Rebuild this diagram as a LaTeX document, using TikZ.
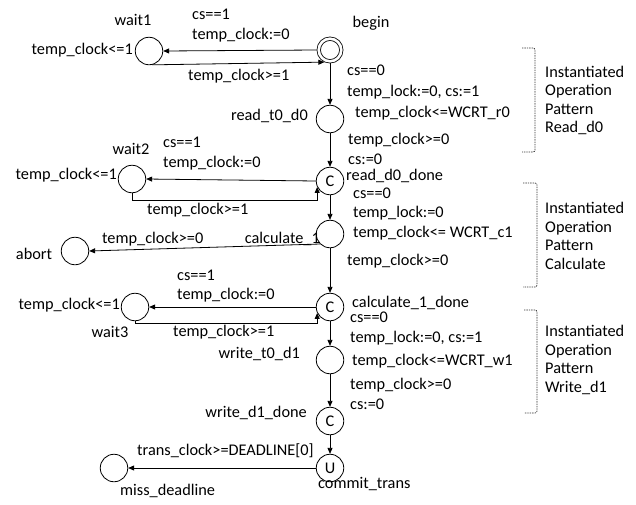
\documentclass[tikz,border=0pt]{standalone}
\usepackage{fontspec}
\setmainfont{Carlito}
\usetikzlibrary{arrows.meta}
\begin{document}
\begin{tikzpicture}[x=1pt,y=-1pt,
  every node/.style={font=\fontsize{16.3}{18.5}\selectfont},
  loc/.style={draw, circle, minimum size=27.5pt, inner sep=0pt, line width=0.8pt},
  initloc/.style={draw, circle, minimum size=22.6pt, inner sep=0pt, line width=0.8pt, double, double distance=2.6pt, outer sep=2.1pt},
  lbl/.style={inner sep=0pt, text height=0.75em, text depth=0.2em},
  blk/.style={inner sep=0pt, align=left, anchor=west},
  arr/.style={line width=0.8pt, -{Triangle[length=6pt,width=5pt]}},
  brk/.style={line width=0.7pt, dash pattern=on 1.4pt off 1pt, rounded corners=2pt, black!80}]
\useasboundingbox (0,0) rectangle (636,504);

% locations
\node[initloc] (begin) at (330,50) {};
\node[loc] (read_t0_d0) at (330,119) {};
\node[loc] (read_d0_done) at (330,181) {C};
\node[loc] (calculate_1) at (330,234) {};
\node[loc] (calculate_1_done) at (330,307) {C};
\node[loc] (write_t0_d1) at (330,360) {};
\node[loc] (write_d1_done) at (330,421) {C};
\node[loc] (commit_trans) at (330,468) {U};
\node[loc] (wait1) at (149,51) {};
\node[loc] (wait2) at (132,179) {};
\node[loc] (abort) at (75,251) {};
\node[loc] (wait3) at (135,307) {};
\node[loc] (miss_deadline) at (114,468) {};

% main column
\draw[arr] (begin) -- (read_t0_d0);
\draw[arr] (read_t0_d0) -- (read_d0_done);
\draw[arr] (read_d0_done) -- (calculate_1);
\draw[arr] (calculate_1) -- (calculate_1_done);
\draw[arr] (calculate_1_done) -- (write_t0_d1);
\draw[arr] (write_t0_d1) -- (write_d1_done);
\draw[arr] (write_d1_done) -- (commit_trans);

% side loops
\draw[arr] (begin.west) -- (wait1.east);
\draw[arr] (wait1.-78) -- (begin.-115);
\draw[arr] (read_d0_done.west) -- (wait2.east);
\draw[arr] (wait2.south) -- ++(0,7) -| (read_d0_done.-155);
\draw[arr] (calculate_1.-135) -- (abort.east);
\draw[arr] (calculate_1_done.west) -- (wait3.east);
\draw[arr] (wait3.south) -- ++(0,2) -| (calculate_1_done.-155);
\draw[arr] (commit_trans.west) -- (miss_deadline.east);

% location names and invariants
\node[lbl] (n_begin) at (371,25) {begin};
\node[lbl] (n_wait1) at (133,23) {wait1};
\node[lbl, anchor=east] (i_wait1) at (133,52) {temp\_clock<=1};
\node[lbl, anchor=east] (n_read) at (308,118) {read\_t0\_d0};
\node[lbl, anchor=west] (n_readdone) at (346,178) {read\_d0\_done};
\node[lbl] (n_wait2) at (131,152) {wait2};
\node[lbl, anchor=east] (i_wait2) at (117,177) {temp\_clock<=1};
\node[lbl, anchor=east] (n_calc) at (320,241) {calculate\_1};
\node[lbl] (n_abort) at (34,257) {abort};
\node[lbl, anchor=west] (n_calcdone) at (352,305) {calculate\_1\_done};
\node[lbl, anchor=east] (i_wait3) at (120,307) {temp\_clock<=1};
\node[lbl] (n_wait3) at (110,335) {wait3};
\node[lbl, anchor=east] (n_write) at (300,356) {write\_t0\_d1};
\node[lbl, anchor=east] (n_writedone) at (307,415) {write\_d1\_done};
\node[lbl, anchor=west] (n_commit) at (318,486) {commit\_trans};
\node[lbl, anchor=west] (n_miss) at (120,493) {miss\_deadline};

% edge labels
\node[lbl, anchor=west] (e1a) at (192,17) {cs==1};
\node[lbl, anchor=west] (e1b) at (192,37) {temp\_clock:=0};
\node[lbl, anchor=west] (e2) at (188,78) {temp\_clock>=1};
\node[lbl, anchor=west] (e3a) at (347,73) {cs==0};
\node[lbl, anchor=west] (e3b) at (347,94) {temp\_lock:=0, cs:=1};
\node[lbl, anchor=west] (i_read) at (355,115) {temp\_clock<=WCRT\_r0};
\node[lbl, anchor=west] (e4a) at (348,142) {temp\_clock>=0};
\node[lbl, anchor=west] (e4b) at (348,162) {cs:=0};
\node[lbl, anchor=west] (e5a) at (163,145) {cs==1};
\node[lbl, anchor=west] (e5b) at (163,165) {temp\_clock:=0};
\node[lbl, anchor=west] (e6) at (147,212) {temp\_clock>=1};
\node[lbl, anchor=west] (e7a) at (353,196) {cs==0};
\node[lbl, anchor=west] (e7b) at (353,215) {temp\_lock:=0};
\node[lbl, anchor=west] (i_calc) at (353,235) {temp\_clock<= WCRT\_c1};
\node[lbl, anchor=west] (e8) at (102,241) {temp\_clock>=0};
\node[lbl, anchor=west] (e9) at (347,263) {temp\_clock>=0};
\node[lbl, anchor=west] (e10a) at (177,278) {cs==1};
\node[lbl, anchor=west] (e10b) at (177,297) {temp\_clock:=0};
\node[lbl, anchor=west] (e11) at (173,334) {temp\_clock>=1};
\node[lbl, anchor=west] (e12a) at (350,320) {cs==0};
\node[lbl, anchor=west] (e12b) at (350,340) {temp\_lock:=0, cs:=1};
\node[lbl, anchor=west] (i_write) at (352,363) {temp\_clock<=WCRT\_w1};
\node[lbl, anchor=west] (e13a) at (350,387) {temp\_clock>=0};
\node[lbl, anchor=west] (e13b) at (350,407) {cs:=0};
\node[lbl, anchor=west] (e14) at (137,453) {trans\_clock>=DEADLINE[0]};

% pattern brackets
\draw[brk] (522,48) -- (535,48) -- (535,152) -- (522,152);
\draw[brk] (523,183) -- (537,183) -- (537,287) -- (523,287);
\draw[brk] (524,310) -- (537,310) -- (537,413) -- (524,413);
\node[blk] (p1) at (545,100.5) {Instantiated\\Operation\\Pattern\\Read\_d0};
\node[blk] (p2) at (545,236) {Instantiated\\Operation\\Pattern\\Calculate};
\node[blk] (p3) at (545,360) {Instantiated\\Operation\\Pattern\\Write\_d1};
\end{tikzpicture}
\end{document}
